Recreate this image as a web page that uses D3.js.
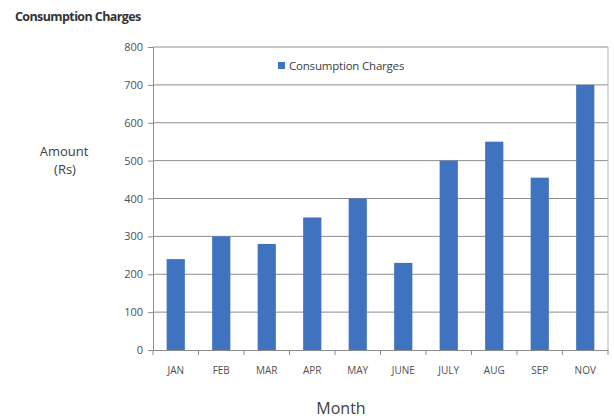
<!DOCTYPE html>
<html>
<head>
<meta charset="utf-8">
<script src="https://cdn.jsdelivr.net/npm/d3@7"></script>
<style>
  body { margin: 0; background: #fff; }
  text { font-family: "Open Sans", "DejaVu Sans", sans-serif; }
</style>
</head>
<body>
<div id="chart"></div>
<script>
let months = ["JAN", "FEB", "MAR", "APR", "MAY", "JUNE", "JULY", "AUG", "SEP", "NOV"];
let charges = [240, 300, 280, 350, 400, 230, 500, 550, 455, 700];
let yTicks = [0, 100, 200, 300, 400, 500, 600, 700, 800];

function drawChart(){
    var margin = {top: 47, right: 6, bottom: 69, left: 153}
    , width = 614 - margin.left - margin.right
    , height = 419 - margin.top - margin.bottom;

    var svg = d3.select("#chart").append("svg")
    .attr("width", 614)
    .attr("height", 419);

    var g = svg.append("g")
    .attr("transform", "translate(" + margin.left + "," + margin.top + ")");

    var xScale = d3.scaleBand()
    .domain(months)
    .range([0, width])
    .paddingInner(0.6)
    .paddingOuter(0.3);

    var yScale = d3.scaleLinear()
    .domain([0, 800])
    .range([height, 0]);

    // gridlines
    g.selectAll(".grid")
    .data(yTicks.slice(1))
    .enter().append("line")
    .attr("x1", 0)
    .attr("x2", width)
    .attr("y1", d => yScale(d))
    .attr("y2", d => yScale(d))
    .attr("stroke", "#8c8c8c")
    .attr("stroke-width", 1);

    // right border
    g.append("line")
    .attr("x1", width).attr("x2", width)
    .attr("y1", 0).attr("y2", height)
    .attr("stroke", "#b5b5b5");

    g.selectAll(".bar")
    .data(charges)
    .enter().append("rect")
    .attr("class", "bar")
    .attr("x", (d, i) => xScale(months[i]))
    .attr("y", d => yScale(d))
    .attr("width", xScale.bandwidth())
    .attr("height", d => height - yScale(d))
    .attr("fill", "#3f73bf");

    // y axis
    var yAxis = g.append("g")
    .call(d3.axisLeft(yScale).tickValues(yTicks).tickSize(5).tickPadding(5));
    yAxis.select(".domain").attr("stroke", "#8c8c8c");
    yAxis.selectAll(".tick line").attr("stroke", "#8c8c8c");
    yAxis.selectAll("text").attr("fill", "#505050").style("font-size", "11px");

    // x axis with ticks between categories
    var xAxis = g.append("g")
    .attr("transform", "translate(0," + height + ")")
    .call(d3.axisBottom(xScale).tickSize(0).tickPadding(17));
    xAxis.select(".domain").attr("stroke", "#8c8c8c");
    xAxis.selectAll("text").attr("fill", "#505050").style("font-size", "10px");

    var step = xScale.step();
    g.selectAll(".xtick")
    .data(d3.range(months.length + 1))
    .enter().append("line")
    .attr("x1", i => i * step)
    .attr("x2", i => i * step)
    .attr("y1", height)
    .attr("y2", height + 5)
    .attr("stroke", "#8c8c8c");

    // title
    svg.append("text")
    .attr("x", 15).attr("y", 21)
    .style("font-size", "12.5px")
    .style("font-weight", "bold")
    .style("letter-spacing", "-0.6px")
    .attr("fill", "#333")
    .text("Consumption Charges");

    // y label
    svg.append("text")
    .attr("x", 64).attr("y", 156)
    .attr("text-anchor", "middle")
    .style("font-size", "13px")
    .attr("fill", "#404040")
    .text("Amount");
    svg.append("text")
    .attr("x", 65).attr("y", 174)
    .attr("text-anchor", "middle")
    .style("font-size", "13px")
    .attr("fill", "#404040")
    .text("(Rs)");

    // x label
    svg.append("text")
    .attr("x", 341).attr("y", 414)
    .attr("text-anchor", "middle")
    .style("font-size", "16px")
    .attr("fill", "#404040")
    .text("Month");

    // legend
    svg.append("rect")
    .attr("x", 278).attr("y", 62)
    .attr("width", 7).attr("height", 7)
    .attr("fill", "#3f73bf");
    svg.append("text")
    .attr("x", 289).attr("y", 70)
    .style("font-size", "11.5px")
    .style("letter-spacing", "-0.2px")
    .attr("fill", "#404040")
    .text("Consumption Charges");
}

drawChart();
</script>
</body>
</html>
